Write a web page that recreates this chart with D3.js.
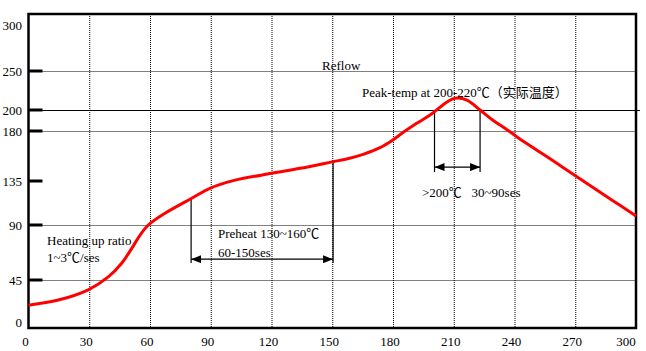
<!DOCTYPE html>
<html>
<head>
<meta charset="utf-8">
<script src="https://cdn.jsdelivr.net/npm/d3@7"></script>
<style>
  body { margin: 0; background: #fff; }
  text { font-family: "Liberation Serif", "Noto Sans CJK SC", serif; font-size: 13px; fill: #000; white-space: pre; }
</style>
</head>
<body>
<div id="chart"></div>
<script>
// reflow profile (time in s, temperature in °C)
const timeSec = [0, 14.7, 29.5, 39.4, 46, 51, 55.1, 59.2, 67.4, 80.6, 89.6, 101.1, 120.1, 134.1, 150.4,
  157.1, 165.3, 173.6, 179.4, 185.1, 191.7, 198.3, 206.7, 210.6, 216.5, 223, 229.5, 236.1, 241.1,
  262.5, 288.6, 300];
const tempC = [18, 23.5, 34.5, 47.5, 58.7, 70.9, 81.8, 90, 102, 117.3, 127.5, 135.3, 141.9, 146.4, 152.4,
  154.8, 159, 165, 171.3, 178.8, 187.3, 195.2, 210.3, 215, 212.8, 200, 190, 181.5, 174.9,
  149, 114.9, 99.2];

// the y axis of the original is hand drawn: uneven spacing between ticks
const yTicks = [0, 45, 90, 135, 180, 200, 250, 300];
const yTickMarks = [45, 90, 135, 180, 200, 250];
const yGrid = [45, 90, 180, 250];
const xTicks = [0, 30, 60, 90, 120, 150, 180, 210, 240, 270, 300];
const xGrid = [30, 60, 90, 120, 150, 180, 210, 240, 270];

// annotation spans
const preheatSpan = [80.3, 150.4];
const preheatTop = [117, 152.4];
const reflowSpan = [200.5, 223];

const width = 646, height = 351;

const svg = d3.select("#chart").append("svg")
  .attr("width", width).attr("height", height);

const x = d3.scaleLinear().domain([0, 300]).range([28.5, 636]);
const y = d3.scaleLinear()
  .domain(yTicks)
  .range([322, 280, 225, 181, 131, 110, 71, 25]);

const plotTop = 14, plotBottom = 328;

// arrow heads
const defs = svg.append("defs");
defs.append("marker")
  .attr("id", "arrow")
  .attr("viewBox", "0 0 10 8")
  .attr("refX", 10).attr("refY", 4)
  .attr("markerWidth", 10).attr("markerHeight", 8)
  .attr("markerUnits", "userSpaceOnUse")
  .attr("orient", "auto-start-reverse")
  .append("path")
  .attr("d", "M0,0 L10,4 L0,8 Z")
  .attr("fill", "#000");

// dotted grid
svg.append("g").selectAll("line")
  .data(xGrid).join("line")
  .attr("x1", d => x(d) + 0.5).attr("x2", d => x(d) + 0.5)
  .attr("y1", plotTop).attr("y2", plotBottom)
  .attr("stroke", "#000").attr("stroke-width", 1)
  .attr("stroke-dasharray", "1,1");

svg.append("g").selectAll("line")
  .data(yGrid).join("line")
  .attr("x1", x(0)).attr("x2", x(300))
  .attr("y1", d => y(d) + 0.5).attr("y2", d => y(d) + 0.5)
  .attr("stroke", "#000").attr("stroke-width", 1)
  .attr("stroke-dasharray", "1,1");

// solid 200 line
svg.append("line")
  .attr("x1", x(0)).attr("x2", x(300) + 4)
  .attr("y1", y(200) + 0.5).attr("y2", y(200) + 0.5)
  .attr("stroke", "#000").attr("stroke-width", 1);

// frame
svg.append("rect")
  .attr("x", x(0)).attr("y", plotTop)
  .attr("width", x(300) - x(0)).attr("height", plotBottom - plotTop)
  .attr("fill", "none").attr("stroke", "#000").attr("stroke-width", 2.5);

// y tick stubs
svg.append("g").selectAll("line")
  .data(yTickMarks).join("line")
  .attr("x1", x(0)).attr("x2", x(0) + 14)
  .attr("y1", d => y(d)).attr("y2", d => y(d))
  .attr("stroke", "#000").attr("stroke-width", 3);

// tick labels
svg.append("g").selectAll("text")
  .data(yTicks).join("text")
  .attr("x", 22).attr("y", d => y(d))
  .attr("dy", "0.35em")
  .attr("text-anchor", "end")
  .text(d => d);

svg.append("g").selectAll("text")
  .data(xTicks).join("text")
  .attr("x", d => Math.min(x(d) - 3, 626)).attr("y", 346)
  .attr("text-anchor", "middle")
  .text(d => d);

// annotation lines
const ann = svg.append("g").attr("stroke", "#000").attr("stroke-width", 1.2);
preheatSpan.forEach((t, i) => {
  ann.append("line")
    .attr("x1", x(t)).attr("x2", x(t))
    .attr("y1", y(preheatTop[i])).attr("y2", y(59));
});
ann.append("line")
  .attr("x1", x(preheatSpan[0])).attr("x2", x(preheatSpan[1]))
  .attr("y1", y(62)).attr("y2", y(62))
  .attr("marker-start", "url(#arrow)").attr("marker-end", "url(#arrow)");

reflowSpan.forEach(t => {
  ann.append("line")
    .attr("x1", x(t)).attr("x2", x(t))
    .attr("y1", y(200)).attr("y2", y(143));
});
ann.append("line")
  .attr("x1", x(reflowSpan[0])).attr("x2", x(reflowSpan[1]))
  .attr("y1", y(147.5)).attr("y2", y(147.5))
  .attr("marker-start", "url(#arrow)").attr("marker-end", "url(#arrow)");

// profile curve
const line = d3.line()
  .x((d, i) => x(timeSec[i]))
  .y(d => y(d))
  .curve(d3.curveCatmullRom);

svg.append("path")
  .datum(tempC)
  .attr("fill", "none")
  .attr("stroke", "#ff0000")
  .attr("stroke-width", 3)
  .attr("d", line);

// texts
svg.append("text").attr("x", 322).attr("y", 70).text("Reflow");
svg.append("text").attr("x", 362).attr("y", 97).text("Peak-temp at 200-220℃（实际温度）");
svg.append("text").attr("x", 422).attr("y", 197).text(">200℃   30~90ses");
svg.append("text").attr("x", 218).attr("y", 238).text("Preheat 130~160℃");
svg.append("text").attr("x", 218).attr("y", 257).text("60-150ses");
svg.append("text").attr("x", 47).attr("y", 245).text("Heating up ratio");
svg.append("text").attr("x", 47).attr("y", 262).text("1~3℃/ses");
</script>
</body>
</html>
